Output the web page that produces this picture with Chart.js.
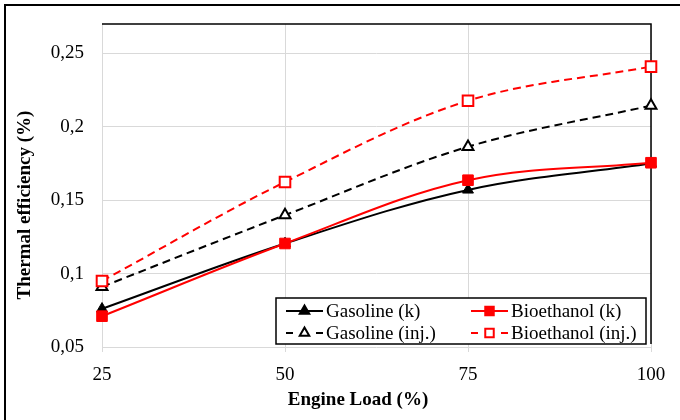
<!DOCTYPE html>
<html>
<head>
<meta charset="utf-8">
<script src="https://cdn.jsdelivr.net/npm/chart.js@4/dist/chart.umd.min.js"></script>
<style>
  html, body { margin: 0; padding: 0; background: #fff; }
  #wrap { width: 680px; height: 420px; position: relative; }
</style>
</head>
<body>
<div id="wrap"><canvas id="myChart" width="680" height="420"></canvas></div>
<script>
const loads = [25, 50, 75, 100];
const gasolineK = [0.076, 0.1205, 0.157, 0.175];
const bioethanolK = [0.071, 0.1205, 0.1636, 0.1755];
const gasolineInj = [0.091, 0.1398, 0.1864, 0.2144];
const bioethanolInj = [0.095, 0.1624, 0.2177, 0.241];
const yTicks = [0.05, 0.1, 0.15, 0.2, 0.25];

const seriesNames = ['Gasoline (k)', 'Bioethanol (k)', 'Gasoline (inj.)', 'Bioethanol (inj.)'];

const FONT = "'Liberation Serif', 'Times New Roman', serif";

function pts(values) {
    return loads.map((x, i) => ({x: x, y: values[i]}));
}

// ........ frame, titles and legend drawn on the canvas ........
const extras = {
    id: 'extras',
    afterDraw(chart) {
        const c = chart.ctx;
        c.save();
        // outer frame (only top and left visible)
        c.strokeStyle = '#000';
        c.lineWidth = 2;
        c.beginPath();
        c.moveTo(5, 420);
        c.lineTo(5, 5);
        c.lineTo(680, 5);
        c.stroke();

        // axis titles
        c.fillStyle = '#000';
        c.font = 'bold 19px ' + FONT;
        c.textAlign = 'center';
        c.textBaseline = 'middle';
        c.fillText('Engine Load (%)', 358, 400);
        c.save();
        c.translate(25, 205);
        c.rotate(-Math.PI / 2);
        c.fillText('Thermal efficiency (%)', 0, 0);
        c.restore();

        // legend box
        const bx = 276, by = 298, bw = 370, bh = 46;
        c.fillStyle = '#fff';
        c.fillRect(bx, by, bw, bh);
        c.strokeStyle = '#000';
        c.lineWidth = 1.5;
        c.setLineDash([]);
        c.strokeRect(bx, by, bw, bh);

        const cols = [286, 471];
        const rows = [311, 333];
        chart.data.datasets.forEach((ds, i) => {
            const x0 = cols[i % 2];
            const y0 = rows[Math.floor(i / 2)];
            c.strokeStyle = ds.borderColor;
            c.lineWidth = 2;
            c.beginPath();
            if (ds.borderDash) {
                c.moveTo(x0, y0); c.lineTo(x0 + 7, y0);
                c.moveTo(x0 + 30, y0); c.lineTo(x0 + 37, y0);
            } else {
                c.moveTo(x0, y0); c.lineTo(x0 + 37, y0);
            }
            c.stroke();
            c.fillStyle = ds.pointBackgroundColor;
            c.strokeStyle = ds.pointBorderColor;
            c.lineWidth = 2;
            Chart.helpers.drawPoint(c, {
                pointStyle: ds.pointStyle,
                radius: ds.pointStyle === 'rect' ? 6 : 5.5,
                borderWidth: 2
            }, x0 + 18.5, y0);
            c.fillStyle = '#000';
            c.font = '19px ' + FONT;
            c.textAlign = 'left';
            c.textBaseline = 'middle';
            c.fillText(ds.label, x0 + 40, y0 + 1);
        });
        c.restore();
    }
};

// black top and right border of the plot area, under the series
const plotBorder = {
    id: 'plotBorder',
    beforeDatasetsDraw(chart) {
        const c = chart.ctx;
        const a = chart.chartArea;
        c.save();
        c.strokeStyle = '#000';
        c.lineWidth = 1.5;
        c.beginPath();
        c.moveTo(a.left, a.top);
        c.lineTo(a.right, a.top);
        c.lineTo(a.right, a.bottom - 3);
        c.stroke();
        c.restore();
    }
};

function ds(label, values, color, filled, style, dashed, order) {
    return {
        label: label,
        data: pts(values),
        borderColor: color,
        backgroundColor: filled ? color : '#fff',
        pointBackgroundColor: filled ? color : '#fff',
        pointBorderColor: color,
        pointBorderWidth: filled ? 1 : 2,
        pointStyle: style,
        pointRadius: style === 'rect' ? 7.5 : 6.3,
        borderWidth: 2,
        borderDash: dashed ? [8, 5] : undefined,
        tension: 0.35,
        fill: false,
        clip: false,
        order: order
    };
}

const ctx = document.getElementById('myChart').getContext('2d');
const chart = new Chart(ctx, {
    type: 'line',
    data: {
        datasets: [
            ds(seriesNames[0], gasolineK, '#000000', true, 'triangle', false, 4),
            ds(seriesNames[1], bioethanolK, '#ff0000', true, 'rect', false, 3),
            ds(seriesNames[2], gasolineInj, '#000000', false, 'triangle', true, 2),
            ds(seriesNames[3], bioethanolInj, '#ff0000', false, 'rect', true, 1)
        ]
    },
    options: {
        responsive: false,
        animation: false,
        layout: { padding: { left: 0, top: 24, right: 29, bottom: 0 } },
        plugins: {
            legend: { display: false },
            tooltip: { enabled: false }
        },
        scales: {
            x: {
                type: 'linear',
                min: 25,
                max: 100,
                afterBuildTicks: (s) => { s.ticks = loads.map(v => ({value: v})); },
                ticks: {
                    color: '#000',
                    font: { family: FONT, size: 19 },
                    padding: 12,
                    maxRotation: 0
                },
                grid: { color: '#d9d9d9', lineWidth: 1, tickLength: 5 },
                border: { display: false },
                afterFit: (s) => { s.height = 73; }
            },
            y: {
                min: 0.05,
                max: 0.27,
                afterBuildTicks: (s) => { s.ticks = yTicks.map(v => ({value: v})); },
                ticks: {
                    color: '#000',
                    font: { family: FONT, size: 19 },
                    padding: 0,
                    callback: (v) => String(+v.toFixed(2)).replace('.', ',')
                },
                grid: { color: '#d9d9d9', lineWidth: 1, tickLength: 18, tickColor: 'rgba(0,0,0,0)' },
                border: { display: false },
                afterFit: (s) => { s.width = 102; }
            }
        }
    },
    plugins: [plotBorder, extras]
});
</script>
</body>
</html>
